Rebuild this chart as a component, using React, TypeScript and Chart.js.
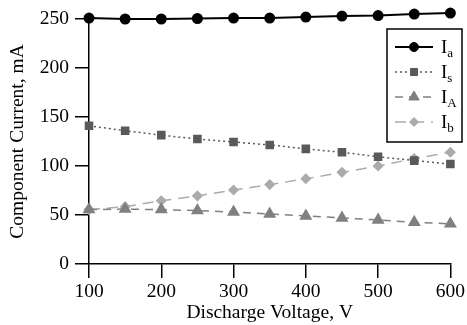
import React, { useEffect, useRef } from 'react';
import { Chart, registerables } from 'chart.js';
import { drawPoint } from 'chart.js/helpers';

Chart.register(...registerables);

const voltages = [100, 150, 200, 250, 300, 350, 400, 450, 500, 550, 600];
const currentIa = [251, 250, 250, 250.5, 251, 251, 252, 253, 253.5, 255, 256];
const currentIs = [141, 136, 131.5, 127.5, 124.5, 121.5, 117.5, 114, 109.5, 105.5, 102];
const currentIA = [55.5, 56, 55.5, 54.5, 53, 51, 49, 47, 45, 42.5, 41];
const currentIb = [55.5, 58.5, 64.5, 69.5, 75.5, 81, 87, 93.5, 100, 107.5, 114];
const subscripts = ['a', 's', 'A', 'b'];
const xTitle = 'Discharge Voltage, V';
const yTitle = 'Component Current, mA';

const FONT = "'Liberation Serif', 'Times New Roman', serif";
const FS = 19.5;

const legendPlugin = {
  id: 'subLegend',
  afterDraw(chart: any) {
    const ctx = chart.ctx as CanvasRenderingContext2D;
    const bx = 387, by = 29, bw = 75, bh = 113;
    ctx.save();
    ctx.fillStyle = '#fff';
    ctx.fillRect(bx, by, bw, bh);
    ctx.strokeStyle = '#000';
    ctx.lineWidth = 1.5;
    ctx.setLineDash([]);
    ctx.strokeRect(bx, by, bw, bh);
    chart.data.datasets.forEach((ds: any, i: number) => {
      const cy = by + 18 + i * 25;
      ctx.save();
      ctx.strokeStyle = ds.borderColor;
      ctx.lineWidth = ds.borderWidth;
      ctx.setLineDash(ds.borderDash || []);
      ctx.beginPath();
      ctx.moveTo(bx + 8, cy);
      ctx.lineTo(bx + 46, cy);
      ctx.stroke();
      ctx.setLineDash([]);
      ctx.fillStyle = ds.pointBackgroundColor;
      ctx.strokeStyle = ds.pointBorderColor;
      ctx.lineWidth = 1;
      drawPoint(ctx, { pointStyle: ds.pointStyle, radius: ds.pointRadius, borderWidth: 1, rotation: 0 } as any, bx + 27, cy);
      ctx.restore();
      ctx.fillStyle = '#000';
      ctx.textBaseline = 'alphabetic';
      ctx.textAlign = 'left';
      ctx.font = `19px ${FONT}`;
      ctx.fillText('I', bx + 54, cy + 6);
      const w = ctx.measureText('I').width;
      ctx.font = `13px ${FONT}`;
      ctx.fillText(subscripts[i], bx + 54 + w, cy + 10);
    });
    ctx.restore();
  },
};

export default function App() {
  const ref = useRef<HTMLCanvasElement>(null);
  useEffect(() => {
    document.body.style.margin = '0';
    const toXY = (ys: number[]) => ys.map((y, i) => ({ x: voltages[i], y }));
    const chart = new Chart(ref.current!, {
      type: 'line',
      data: {
        datasets: [
          {
            label: 'Ia', data: toXY(currentIa), borderColor: '#000', backgroundColor: '#000',
            pointBackgroundColor: '#000', pointBorderColor: '#000', borderWidth: 2,
            pointStyle: 'circle', pointRadius: 4.5, borderDash: [],
          },
          {
            label: 'Is', data: toXY(currentIs), borderColor: '#5a5a5a', backgroundColor: '#5a5a5a',
            pointBackgroundColor: '#5a5a5a', pointBorderColor: '#5a5a5a', borderWidth: 1.5,
            pointStyle: 'rect', pointRadius: 5, borderDash: [2, 3],
          },
          {
            label: 'IA', data: toXY(currentIA), borderColor: '#808080', backgroundColor: '#808080',
            pointBackgroundColor: '#808080', pointBorderColor: '#808080', borderWidth: 1.5,
            pointStyle: 'triangle', pointRadius: 6, borderDash: [8, 6],
          },
          {
            label: 'Ib', data: toXY(currentIb), borderColor: '#ababab', backgroundColor: '#ababab',
            pointBackgroundColor: '#ababab', pointBorderColor: '#ababab', borderWidth: 1.5,
            pointStyle: 'rectRot', pointRadius: 4.5, borderDash: [11, 7],
          },
        ] as any,
      },
      options: {
        animation: false,
        responsive: false,
        devicePixelRatio: 1,
        clip: false as any,
        layout: { padding: { left: 0, top: 19, right: 16, bottom: 0 } },
        plugins: { legend: { display: false }, tooltip: { enabled: false } },
        scales: {
          x: {
            type: 'linear', min: 100, max: 600,
            ticks: { stepSize: 100, color: '#000', font: { family: FONT, size: FS }, padding: 2, maxRotation: 0 },
            grid: { display: true, drawOnChartArea: false, drawTicks: true, tickLength: 14, color: '#000', lineWidth: 1.5 },
            border: { display: true, color: '#000', width: 1.5 },
            title: { display: true, text: xTitle, color: '#000', font: { family: FONT, size: FS }, padding: { top: 0, bottom: 0 } },
            afterFit: (s: any) => { s.height = 61; },
          },
          y: {
            min: 0, max: 250,
            ticks: { stepSize: 50, color: '#000', font: { family: FONT, size: FS }, padding: 6 },
            grid: { display: true, drawOnChartArea: false, drawTicks: true, tickLength: 14, color: '#000', lineWidth: 1.5 },
            border: { display: true, color: '#000', width: 1.5 },
            title: { display: true, text: yTitle, color: '#000', font: { family: FONT, size: FS }, padding: { top: 6, bottom: 0 } },
            afterFit: (s: any) => { s.width = 89; },
          },
        },
      } as any,
      plugins: [legendPlugin],
    });
    return () => chart.destroy();
  }, []);
  return (
    <div style={{ width: 467, height: 325, background: '#fff' }}>
      <canvas ref={ref} width={467} height={325} style={{ display: 'block' }} />
    </div>
  );
}
